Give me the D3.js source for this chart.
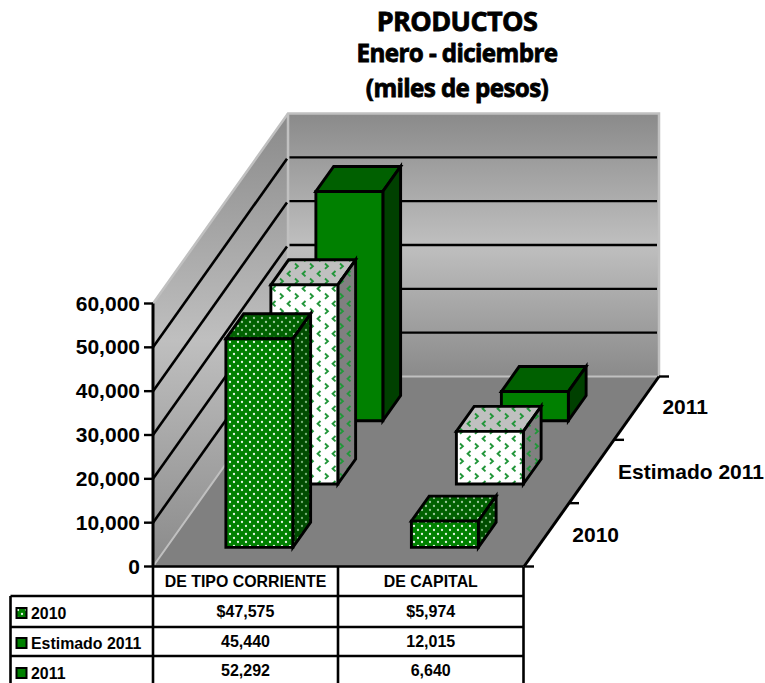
<!DOCTYPE html>
<html><head><meta charset="utf-8">
<script src="https://cdn.jsdelivr.net/npm/d3@7/dist/d3.min.js"></script>
<style>html,body{margin:0;padding:0;background:#fff;overflow:hidden}svg{display:block}</style>
</head><body>
<script>
const titleLines = ["PRODUCTOS", "Enero - diciembre", "(miles de pesos)"];
const categories = ["DE TIPO CORRIENTE", "DE CAPITAL"];
const seriesNames = ["2010", "Estimado 2011", "2011"];
const values2010 = [47575, 5974];
const valuesEstimado = [45440, 12015];
const values2011 = [52292, 6640];
const seriesValues = [values2010, valuesEstimado, values2011];
const valuePrefix = ["$", "", ""];

const W = 765, H = 683;
const ox = 153, oy = 566.5, plotW = 371, plotH = 263, depthX = 135, depthY = 190;
const svg = d3.select("body").append("svg").attr("width", W).attr("height", H)
  .style("font-family", "'Liberation Sans',Arial,sans-serif").style("font-weight", "bold");
const defs = svg.append("defs");

const wallGrad = defs.append("linearGradient").attr("id", "wall").attr("x1", 0).attr("y1", 0).attr("x2", 0).attr("y2", 1);
[[0, "#8a8a8a"], [.5, "#bfbfbf"], [1, "#8a8a8a"]].forEach(s => wallGrad.append("stop").attr("offset", s[0]).attr("stop-color", s[1]));

function dots(id, bg, fg) {
  const p = defs.append("pattern").attr("id", id).attr("patternUnits", "userSpaceOnUse").attr("width", 8).attr("height", 8);
  p.append("rect").attr("width", 8).attr("height", 8).attr("fill", bg);
  [[2, 2], [6, 6]].forEach(c => p.append("circle").attr("cx", c[0]).attr("cy", c[1]).attr("r", 1.15).attr("fill", fg));
}
function sprinkle(id, bg) {
  const p = defs.append("pattern").attr("id", id).attr("patternUnits", "userSpaceOnUse").attr("width", 15).attr("height", 15);
  p.append("rect").attr("width", 15).attr("height", 15).attr("fill", bg);
  const g = "#22963a";
  p.append("path").attr("d", "M5.5 1 L2.6 3.7 L5.5 6.4").attr("fill", "none").attr("stroke", g).attr("stroke-width", 1.9);
  p.append("path").attr("d", "M10 8.5 L12.9 11.2 L10 13.9").attr("fill", "none").attr("stroke", g).attr("stroke-width", 1.9);
}
dots("d-front", "#008000", "#e6f4e6");
dots("d-top", "#006000", "#9cc89c");
dots("d-side", "#004c00", "#78b078");
sprinkle("s-front", "#ffffff");
sprinkle("s-top", "#c0c0c0");
sprinkle("s-side", "#808080");

const faceFills = [
  {front: "url(#d-front)", top: "url(#d-top)", side: "url(#d-side)"},
  {front: "url(#s-front)", top: "url(#s-top)", side: "url(#s-side)"},
  {front: "#008000", top: "#006000", side: "#004000"}
];

const y = d3.scaleLinear().domain([0, 60000]).range([0, plotH]);
const x = d3.scaleBand().domain(categories).range([0, plotW]).paddingInner(.639).paddingOuter(.3195);
const z = d3.scaleBand().domain(seriesNames).range([0, 1]).paddingInner(.605).paddingOuter(.3025);

const P = (a, v, d) => [ox + a + d * depthX, oy - v - d * depthY];
const poly = pts => pts.map(p => p.join(",")).join(" ");

svg.append("polygon").attr("points", poly([P(0,0,0), P(0,plotH,0), P(0,plotH,1), P(0,0,1)])).attr("fill", "url(#wall)");
svg.append("polygon").attr("points", poly([P(0,0,1), P(0,plotH,1), P(plotW,plotH,1), P(plotW,0,1)])).attr("fill", "url(#wall)");
svg.append("polyline").attr("points", poly([P(0,plotH,0), P(0,plotH,1), P(plotW,plotH,1), P(plotW,0,1)]))
  .attr("fill", "none").attr("stroke", "#c0c0c0").attr("stroke-width", 2.5);
svg.append("line").attr("x1", P(0,0,1)[0]).attr("y1", P(0,0,1)[1]).attr("x2", P(0,plotH,1)[0]).attr("y2", P(0,plotH,1)[1])
  .attr("stroke", "#c0c0c0").attr("stroke-width", 2.5);

const gridTicks = y.ticks(6).filter(t => t > 0 && t < 60000);
gridTicks.forEach(t => {
  const v = y(t), a = P(0,v,0), b = P(0,v,1), c = P(plotW,v,1);
  svg.append("line").attr("x1", a[0]).attr("y1", a[1]).attr("x2", b[0]-1).attr("y2", b[1]+1.4).attr("stroke", "#000").attr("stroke-width", 2.6);
  svg.append("line").attr("x1", b[0]+1.5).attr("y1", b[1]).attr("x2", c[0]-2).attr("y2", c[1]).attr("stroke", "#000").attr("stroke-width", 2.4);
});

svg.append("polygon").attr("points", poly([P(0,0,0), P(0,0,1), P(plotW,0,1), P(plotW,0,0)])).attr("fill", "#808080");
svg.append("polyline").attr("points", poly([P(0,0,0), P(0,0,1), P(plotW,0,1)]))
  .attr("fill", "none").attr("stroke", "#c0c0c0").attr("stroke-width", 2);

const axisG = svg.append("g");
axisG.append("line").attr("x1", ox).attr("x2", ox).attr("y1", oy).attr("y2", oy - plotH).attr("stroke", "#000").attr("stroke-width", 3);
y.ticks(6).forEach(t => {
  const yy = oy - y(t);
  axisG.append("line").attr("x1", ox - 9).attr("x2", ox).attr("y1", yy).attr("y2", yy).attr("stroke", "#000").attr("stroke-width", 2.4);
  axisG.append("text").attr("x", ox - 13).attr("y", yy + 7).attr("text-anchor", "end").attr("font-size", 21).text(d3.format(",")(t));
});
const rf = P(plotW,0,0), rb = P(plotW,0,1);
axisG.append("line").attr("x1", rf[0]).attr("y1", rf[1]).attr("x2", rb[0]).attr("y2", rb[1]).attr("stroke", "#000").attr("stroke-width", 3);
[0, 1/3, 2/3, 1].forEach(d => {
  const p = P(plotW,0,d);
  axisG.append("line").attr("x1", p[0]).attr("x2", p[0] + 10).attr("y1", p[1]).attr("y2", p[1]).attr("stroke", "#000").attr("stroke-width", 2.4);
});
seriesNames.forEach((s, i) => {
  const tx = [619, 764, 708][i], ty = [542, 479, 414][i];
  svg.append("text").attr("x", tx).attr("y", ty).attr("text-anchor", "end").attr("font-size", 21).text(s);
});

const barsG = svg.append("g").attr("stroke", "#000").attr("stroke-width", 2.9).attr("stroke-linejoin", "miter");
[2, 1, 0].forEach(si => {
  const name = seriesNames[si];
  categories.forEach((c, ci) => {
    const v = y(seriesValues[si][ci]), a0 = x(c), a1 = a0 + x.bandwidth(), d0 = z(name), d1 = d0 + z.bandwidth();
    const f = faceFills[si];
    const g = barsG.append("g");
    g.append("polygon").attr("points", poly([P(a0,v,d0), P(a0,v,d1), P(a1,v,d1), P(a1,v,d0)])).attr("fill", f.top);
    g.append("polygon").attr("points", poly([P(a1,0,d0), P(a1,v,d0), P(a1,v,d1), P(a1,0,d1)])).attr("fill", f.side);
    g.append("polygon").attr("points", poly([P(a0,0,d0), P(a0,v,d0), P(a1,v,d0), P(a1,0,d0)])).attr("fill", f.front);
  });
});

titleLines.forEach((t, i) => {
  svg.append("text").attr("x", 457).attr("y", [31, 62, 97][i]).attr("text-anchor", "middle")
    .attr("font-family", "'Open Sans',sans-serif").attr("font-size", [27, 24.2, 24.2][i])
    .attr("stroke", "#000").attr("stroke-width", .8).attr("letter-spacing", -.6).text(t);
});

const colX = [10.5, ox, 338, 523.5], rowY = [566.5, 596, 627, 656, 683];
const T = svg.append("g").attr("stroke", "#000").attr("stroke-width", 2.6);
T.append("line").attr("x1", ox).attr("x2", colX[3]).attr("y1", rowY[0]).attr("y2", rowY[0]);
rowY.slice(1, 4).forEach(yy => T.append("line").attr("x1", colX[0]).attr("x2", colX[3]).attr("y1", yy).attr("y2", yy));
T.append("line").attr("x1", colX[0]).attr("x2", colX[0]).attr("y1", rowY[1]).attr("y2", H);
colX.slice(1).forEach(xx => T.append("line").attr("x1", xx).attr("x2", xx).attr("y1", rowY[0]).attr("y2", H));

categories.forEach((c, i) => {
  svg.append("text").attr("x", (colX[i+1] + colX[i+2]) / 2).attr("y", 587).attr("text-anchor", "middle").attr("font-size", 15.9).text(c);
});
const rowText = [619, 649, 679], rowVal = [617, 647, 676];
seriesNames.forEach((s, si) => {
  const ky = [608, 638, 668][si];
  svg.append("rect").attr("x", 16.5).attr("y", ky).attr("width", 10).attr("height", 10)
    .attr("fill", faceFills[si === 0 ? 0 : 2].front).attr("stroke", "#000").attr("stroke-width", 2);
  svg.append("text").attr("x", 31).attr("y", rowText[si]).attr("font-size", 15.9).text(s);
  categories.forEach((c, ci) => {
    svg.append("text").attr("x", (colX[ci+1] + colX[ci+2]) / 2).attr("y", rowVal[si]).attr("text-anchor", "middle")
      .attr("font-size", 16).text(valuePrefix[si] + d3.format(",")(seriesValues[si][ci]));
  });
});
</script>
</body></html>
